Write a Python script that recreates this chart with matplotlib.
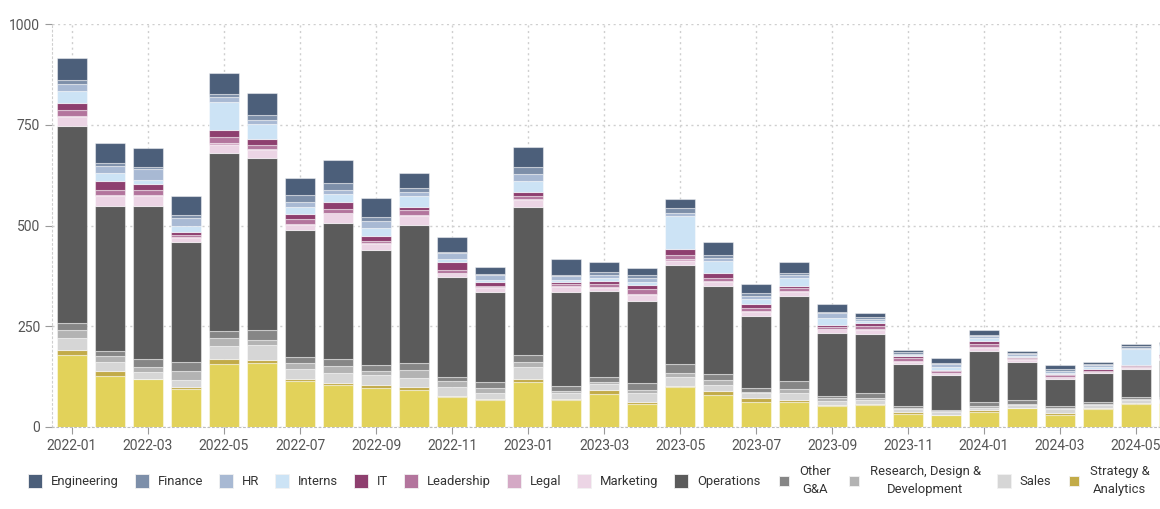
import matplotlib
matplotlib.use("Agg")
import matplotlib.pyplot as plt
from matplotlib.lines import Line2D
import numpy as np

plt.rcParams['font.family'] = ['Roboto', 'DejaVu Sans']

# monthly headcount by department
months = ['2022-01', '2022-02', '2022-03', '2022-04', '2022-05', '2022-06',
          '2022-07', '2022-08', '2022-09', '2022-10', '2022-11', '2022-12',
          '2023-01', '2023-02', '2023-03', '2023-04', '2023-05', '2023-06',
          '2023-07', '2023-08', '2023-09', '2023-10', '2023-11', '2023-12',
          '2024-01', '2024-02', '2024-03', '2024-04', '2024-05', '2024-06']

support = [179, 127, 118, 94, 156, 158, 115, 104, 98, 91, 74, 67, 112, 68, 81,
           56, 99, 79, 62, 61, 53, 54, 33, 30, 38, 46, 31, 45, 57, 58]
strategy = [12, 11, 2, 6, 12, 8, 4, 5, 6, 9, 3, 3, 6, 2, 11,
            6, 2, 10, 10, 6, 2, 2, 4, 1, 4, 2, 3, 2, 2, 2]
sales = [31, 24, 17, 17, 32, 37, 24, 26, 24, 22, 22, 14, 30, 14, 14,
         22, 22, 15, 12, 18, 10, 11, 7, 6, 6, 6, 11, 7, 8, 6]
rnd = [18, 13, 12, 22, 20, 14, 17, 17, 12, 20, 14, 13, 13, 6, 6,
       8, 11, 12, 3, 9, 7, 6, 3, 3, 3, 3, 3, 3, 3, 3]
other_ga = [19, 14, 19, 22, 19, 23, 14, 17, 14, 17, 12, 14, 17, 12, 12,
            17, 22, 15, 9, 19, 5, 11, 5, 3, 11, 10, 5, 6, 5, 5]
operations = [487, 360, 380, 299, 441, 427, 314, 337, 284, 342, 247, 223, 368, 233, 213,
              204, 246, 220, 180, 213, 156, 146, 105, 87, 127, 94, 67, 70, 70, 92]
marketing = [23, 25, 25, 8, 20, 20, 14, 24, 15, 23, 9, 12, 17, 13, 8,
             14, 11, 9, 9, 10, 9, 11, 5, 4, 6, 6, 4, 3, 2, 5]
legal = [2, 2, 2, 3, 4, 2, 2, 2, 3, 2, 1, 1, 2, 1, 2,
         2, 3, 3, 3, 2, 1, 2, 3, 1, 3, 1, 1, 1, 1, 1]
leadership = [16, 13, 13, 5, 16, 11, 13, 10, 6, 13, 7, 3, 7, 5, 7,
              13, 10, 6, 8, 7, 5, 7, 5, 3, 7, 3, 3, 3, 3, 4]
it = [16, 21, 16, 9, 16, 15, 12, 16, 11, 8, 21, 9, 10, 6, 8,
      11, 15, 13, 10, 5, 6, 9, 6, 4, 8, 3, 4, 3, 4, 4]
interns = [30, 21, 10, 13, 70, 36, 17, 21, 20, 25, 7, 6, 28, 6, 7,
           6, 83, 31, 12, 19, 17, 3, 3, 6, 7, 3, 3, 6, 39, 20]
hr = [17, 16, 25, 21, 12, 12, 13, 10, 17, 10, 14, 11, 17, 8, 9,
      11, 7, 7, 7, 7, 12, 7, 3, 8, 5, 3, 5, 4, 3, 4]
finance = [12, 9, 7, 6, 8, 12, 17, 17, 12, 12, 3, 4, 19, 4, 7,
           7, 12, 6, 7, 7, 2, 5, 3, 3, 4, 3, 3, 4, 3, 3]
engineering = [53, 49, 47, 47, 53, 54, 43, 57, 46, 36, 38, 17, 50, 40, 25,
               18, 22, 34, 22, 26, 20, 8, 7, 13, 11, 5, 12, 4, 7, 5]

# bottom -> top
series = [
    ('Support', support, '#e2d25a', False),
    ('Strategy &\nAnalytics', strategy, '#c2ab48', True),
    ('Sales', sales, '#d6d6d6', True),
    ('Research, Design &\nDevelopment', rnd, '#b3b3b3', True),
    ('Other\nG&A', other_ga, '#868686', True),
    ('Operations', operations, '#5b5b5b', True),
    ('Marketing', marketing, '#ecd5e5', True),
    ('Legal', legal, '#d4a9c5', True),
    ('Leadership', leadership, '#b3759d', True),
    ('IT', it, '#8e3f6f', True),
    ('Interns', interns, '#cce3f5', True),
    ('HR', hr, '#a8b9d3', True),
    ('Finance', finance, '#7d8fa9', True),
    ('Engineering', engineering, '#4c5f7a', True),
]

fig = plt.figure(figsize=(11.6, 5.09), dpi=100)
ax = fig.add_axes([52 / 1160, 82 / 509, 1 - 52 / 1160, (485 - 82) / 509])

x = np.arange(len(months))
bottom = np.zeros(len(months))
for name, vals, color, _ in series:
    vals = np.array(vals, dtype=float)
    ax.bar(x, vals, width=0.8, bottom=bottom, color=color,
           edgecolor=(1, 1, 1, 0.45), linewidth=0.8, zorder=3)
    bottom += vals

ax.set_xlim(-0.526, 28.63)
ax.set_ylim(0, 1000)
ax.set_yticks([0, 250, 500, 750, 1000])
ax.set_xticks(x[::2])
ax.set_xticklabels(months[::2])
ax.tick_params(axis='both', colors='#9a9a9a', labelcolor='#555555', labelsize=10, length=5)

ax.grid(True, color='#cfcfcf', linestyle=(0, (1.5, 2.5)), linewidth=1, zorder=0)
for s in ['top', 'right']:
    ax.spines[s].set_visible(False)
ax.spines['left'].set_color('#cfcfcf')
ax.spines['left'].set_linestyle((0, (1.5, 2.5)))
ax.spines['bottom'].set_color('#bdbdbd')
ax.spines['bottom'].set_linestyle((0, (1.5, 2.5)))

# legend, alphabetical, the bottom category does not fit
handles, labels = [], []
for name, vals, color, shown in reversed(series):
    if not shown:
        continue
    size = 7.2 if '\n' in name else 10
    handles.append(Line2D([], [], marker='s', linestyle='', markersize=size,
                          markerfacecolor=color, markeredgecolor='#f2f2f2', markeredgewidth=0.6))
    labels.append(name)

leg = fig.legend(handles, labels, loc='center', bbox_to_anchor=(0.508, 0.056), ncol=13,
                 frameon=False, fontsize=9.4, handlelength=1.0, handletextpad=0.7,
                 columnspacing=1.27, labelcolor='#333333')
for t in leg.get_texts():
    t.set_multialignment('center')
    t.set_linespacing(1.5)

fig.savefig('out.png', dpi=100)
